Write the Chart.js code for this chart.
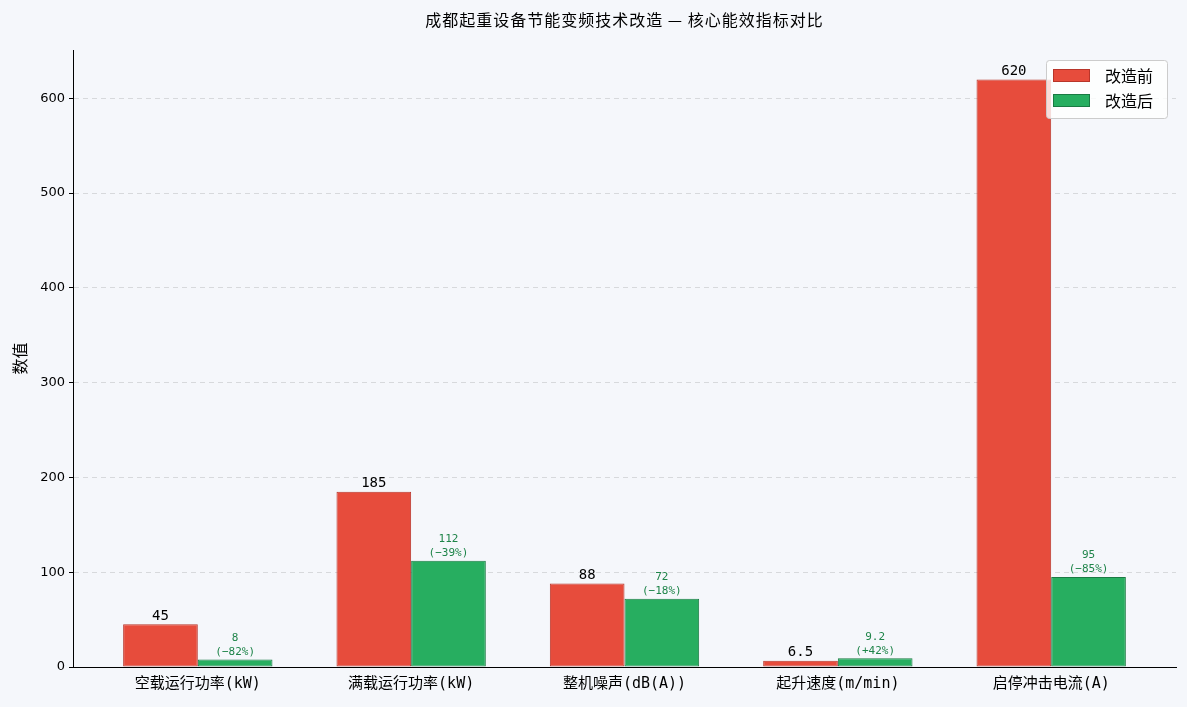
<!DOCTYPE html>
<html>
<head>
<meta charset="utf-8">
<script src="https://cdn.jsdelivr.net/npm/chart.js@4/dist/chart.umd.min.js"></script>
<style>
  html, body { margin: 0; padding: 0; background: #f5f7fb; }
  #wrap { width: 1187px; height: 707px; }
</style>
</head>
<body>
<div id="wrap"><canvas id="chart"></canvas></div>
<script>
var categories = ['空载运行功率(kW)', '满载运行功率(kW)', '整机噪声(dB(A))', '起升速度(m/min)', '启停冲击电流(A)'];
var before = [45, 185, 88, 6.5, 620];
var after = [8, 112, 72, 9.2, 95];
var seriesNames = ['改造前', '改造后'];
var yTicks = [0, 100, 200, 300, 400, 500, 600];
var chartTitle = '成都起重设备节能变频技术改造 — 核心能效指标对比';

var CJK = '"Noto Sans CJK SC", sans-serif';
var MONO = '"DejaVu Sans Mono", "Noto Sans CJK SC", monospace';

var bgPlugin = {
  id: 'bg',
  beforeDraw: function (chart) {
    var ctx = chart.ctx;
    ctx.save();
    ctx.fillStyle = '#f5f7fb';
    ctx.fillRect(0, 0, chart.width, chart.height);
    ctx.restore();
  }
};

// title centred over the plot area, like the original
var titlePlugin = {
  id: 'plotTitle',
  afterDraw: function (chart) {
    var ctx = chart.ctx;
    var area = chart.chartArea;
    ctx.save();
    ctx.fillStyle = '#000';
    ctx.font = '16px ' + CJK;
    ctx.letterSpacing = '1px';
    ctx.textAlign = 'center';
    ctx.textBaseline = 'middle';
    ctx.fillText(chartTitle, (area.left + area.right) / 2, 20);
    ctx.restore();
  }
};

// value labels above the bars
var labelPlugin = {
  id: 'barLabels',
  afterDatasetsDraw: function (chart) {
    var ctx = chart.ctx;
    ctx.save();
    ctx.textAlign = 'center';
    ctx.textBaseline = 'bottom';
    chart.getDatasetMeta(0).data.forEach(function (bar, i) {
      ctx.fillStyle = '#000';
      ctx.font = '14px ' + MONO;
      ctx.fillText(String(before[i]), bar.x, bar.y - 1);
    });
    chart.getDatasetMeta(1).data.forEach(function (bar, i) {
      var pct = Math.round((after[i] - before[i]) / before[i] * 100);
      var pctText = '(' + (pct > 0 ? '+' : '−') + Math.abs(pct) + '%)';
      ctx.fillStyle = '#1e8449';
      ctx.font = '11px ' + MONO;
      ctx.fillText(pctText, bar.x, bar.y - 2);
      ctx.fillText(String(after[i]), bar.x, bar.y - 16);
    });
    ctx.restore();
  }
};

// legend box in the upper right of the plot
var legendPlugin = {
  id: 'boxLegend',
  afterDraw: function (chart) {
    var ctx = chart.ctx;
    var area = chart.chartArea;
    var w = 121, h = 58;
    var x = area.right - w - 9, y = area.top + 10;
    ctx.save();
    ctx.fillStyle = 'rgba(255,255,255,0.8)';
    ctx.strokeStyle = '#cccccc';
    ctx.lineWidth = 1;
    ctx.beginPath();
    ctx.roundRect(x + 0.5, y + 0.5, w, h, 3);
    ctx.fill();
    ctx.stroke();
    chart.data.datasets.forEach(function (ds, i) {
      var cy = y + 16 + i * 25;
      ctx.fillStyle = ds.backgroundColor;
      ctx.strokeStyle = ds.borderColor;
      ctx.fillRect(x + 7, cy - 7, 37, 13);
      ctx.strokeRect(x + 7.5, cy - 6.5, 36, 12);
      ctx.fillStyle = '#000';
      ctx.font = '16px ' + CJK;
      ctx.textAlign = 'left';
      ctx.textBaseline = 'middle';
      ctx.fillText(ds.label, x + 59, cy);
    });
    ctx.restore();
  }
};

var ctx = document.getElementById('chart').getContext('2d');
new Chart(ctx, {
  type: 'bar',
  plugins: [bgPlugin, labelPlugin, legendPlugin, titlePlugin],
  data: {
    datasets: [{
      label: seriesNames[0],
      data: before.map(function (v, i) { return { x: i, y: v }; }),
      backgroundColor: '#e74c3c',
      borderColor: '#b8352a',
      borderWidth: 1,
      borderSkipped: false,
      inflateAmount: 0
    }, {
      label: seriesNames[1],
      data: after.map(function (v, i) { return { x: i, y: v }; }),
      backgroundColor: '#27ae60',
      borderColor: '#1a7a43',
      borderWidth: 1,
      borderSkipped: false,
      inflateAmount: 0
    }]
  },
  options: {
    responsive: true,
    maintainAspectRatio: false,
    animation: false,
    categoryPercentage: 0.7,
    barPercentage: 1.0,
    layout: { padding: { left: 0, right: 11, top: 50, bottom: 0 } },
    plugins: {
      legend: { display: false },
      tooltip: { enabled: false },
      title: { display: false }
    },
    scales: {
      x: {
        type: 'linear',
        offset: false,
        min: -0.585,
        max: 4.585,
        afterFit: function (scale) { scale.height = 40; },
        grid: { display: false, drawTicks: true, tickLength: 4, tickColor: '#000' },
        border: { display: true, color: '#000', width: 1 },
        afterBuildTicks: function (scale) {
          scale.ticks = categories.map(function (c, i) { return { value: i }; });
        },
        ticks: {
          autoSkip: false,
          maxRotation: 0,
          color: '#000',
          padding: 4,
          font: { family: MONO, size: 15 },
          callback: function (v) { return categories[v]; }
        }
      },
      y: {
        min: 0,
        max: 651,
        afterFit: function (scale) { scale.width = 73; },
        afterBuildTicks: function (scale) {
          scale.ticks = yTicks.map(function (v) { return { value: v }; });
        },
        grid: {
          color: 'rgba(0,0,0,0.12)',
          tickColor: '#000',
          tickLength: 4,
          drawTicks: true
        },
        border: { display: true, color: '#000', width: 1, dash: [5, 4] },
        ticks: {
          color: '#000',
          padding: 4,
          font: { family: '"DejaVu Sans", sans-serif', size: 13 }
        },
        title: {
          display: true,
          text: '数值',
          color: '#000',
          font: { family: CJK, size: 16 },
          padding: { top: 10, bottom: 0 }
        }
      }
    }
  }
});
</script>
</body>
</html>
